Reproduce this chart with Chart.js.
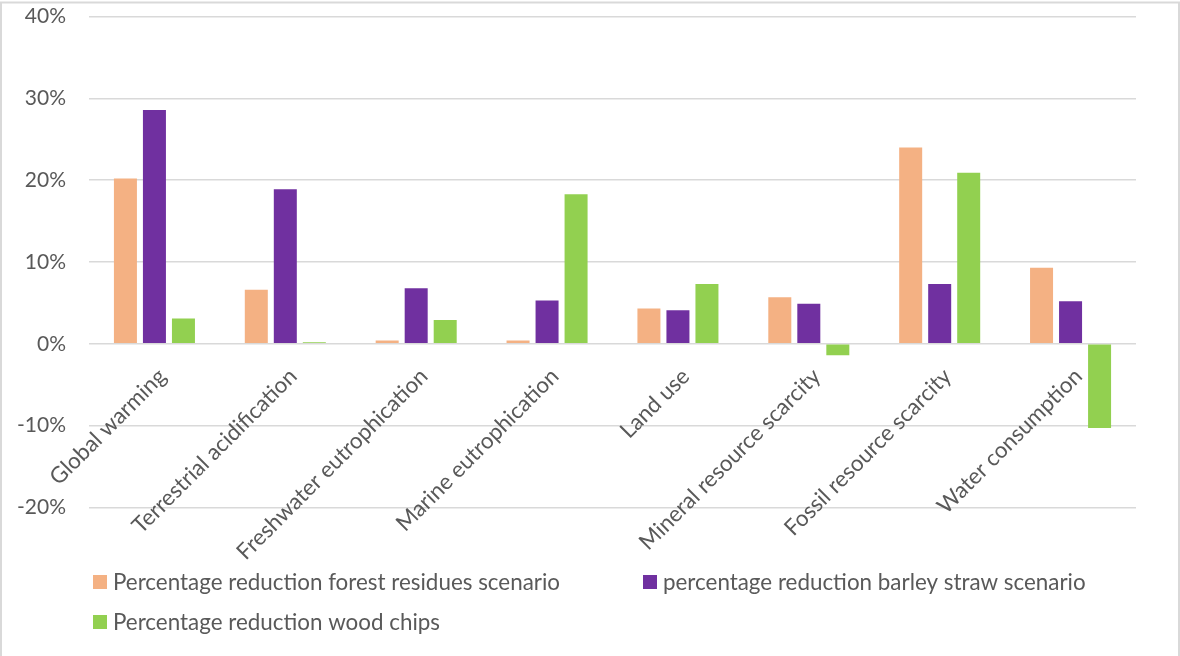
<!DOCTYPE html>
<html>
<head>
<meta charset="utf-8">
<style>
  html, body { margin: 0; padding: 0; background: #ffffff; }
  canvas { display: block; }
</style>
<script src="https://cdn.jsdelivr.net/npm/chart.js@4/dist/chart.umd.min.js"></script>
</head>
<body>
<canvas id="impact" width="1180" height="656"></canvas>
<script>
// Impact categories (x axis)
const categories = [
  'Global warming',
  'Terrestrial acidification',
  'Freshwater eutrophication',
  'Marine eutrophication',
  'Land use',
  'Mineral resource scarcity',
  'Fossil resource scarcity',
  'Water consumption'
];

// Percentage reduction per scenario
const forestResidues = [20.2, 6.6, 0.4, 0.4, 4.3, 5.7, 24.0, 9.3];
const barleyStraw    = [28.6, 18.9, 6.8, 5.3, 4.1, 4.9, 7.3, 5.2];
const woodChips      = [3.1, 0.2, 2.9, 18.3, 7.3, -1.4, 20.9, -10.3];

// Series names
const seriesNames = [
  'Percentage reduction forest residues scenario',
  'percentage reduction barley straw scenario',
  'Percentage reduction wood chips'
];

// Value axis range
const yMin = -20;
const yMax = 40;
const yStep = 10;

const FONT = 'Lato, "Open Sans", "DejaVu Sans", sans-serif';
const TEXT = '#595959';
const COLORS = ['#F4B183', '#7030A0', '#92D050'];

// White page with a thin grey frame
const framePlugin = {
  id: 'frame',
  beforeDraw(chart) {
    const ctx = chart.ctx;
    ctx.save();
    ctx.fillStyle = '#ffffff';
    ctx.fillRect(0, 0, chart.width, chart.height);
    ctx.strokeStyle = '#d9d9d9';
    ctx.lineWidth = 2;
    ctx.strokeRect(1, 2.5, chart.width - 2, chart.height + 20);
    ctx.restore();
  }
};

// Category labels, slanted, hanging just below the zero line
const categoryLabels = {
  id: 'categoryLabels',
  afterDatasetsDraw(chart) {
    const ctx = chart.ctx;
    const xs = chart.scales.x;
    const ys = chart.scales.y;
    const y0 = ys.getPixelForValue(0);
    ctx.save();
    ctx.font = '22.4px ' + FONT;
    ctx.fillStyle = TEXT;
    ctx.textAlign = 'right';
    ctx.textBaseline = 'alphabetic';
    chart.data.labels.forEach((label, i) => {
      const x = xs.getPixelForValue(i);
      ctx.save();
      ctx.translate(x + 13, y0 + 34);
      ctx.rotate(-Math.PI / 4);
      ctx.fillText(label, 0, 0);
      ctx.restore();
    });
    ctx.restore();
  }
};

// Legend in two columns below the plot
const seriesKey = {
  id: 'seriesKey',
  afterDraw(chart) {
    const ctx = chart.ctx;
    const slots = [
      { x: 93, y: 575 },
      { x: 643, y: 575 },
      { x: 93, y: 615 }
    ];
    ctx.save();
    ctx.font = '22.4px ' + FONT;
    ctx.textAlign = 'left';
    ctx.textBaseline = 'alphabetic';
    chart.data.datasets.forEach((ds, i) => {
      const s = slots[i];
      ctx.fillStyle = ds.backgroundColor;
      ctx.fillRect(s.x, s.y, 14, 14);
      ctx.fillStyle = TEXT;
      ctx.fillText(ds.label, s.x + 20, s.y + 14.5);
    });
    ctx.restore();
  }
};

new Chart(document.getElementById('impact'), {
  type: 'bar',
  data: {
    labels: categories,
    datasets: [
      { label: seriesNames[0], data: forestResidues, backgroundColor: COLORS[0] },
      { label: seriesNames[1], data: barleyStraw, backgroundColor: COLORS[1] },
      { label: seriesNames[2], data: woodChips, backgroundColor: COLORS[2] }
    ]
  },
  options: {
    responsive: false,
    animation: false,
    devicePixelRatio: 1,
    categoryPercentage: 0.665,
    barPercentage: 0.793,
    layout: {
      padding: { left: 0, top: 16.7, right: 44, bottom: 148.7 }
    },
    plugins: {
      legend: { display: false },
      tooltip: { enabled: false }
    },
    scales: {
      x: {
        display: false
      },
      y: {
        min: yMin,
        max: yMax,
        afterFit(scale) {
          scale.width = 89;
          scale.paddingTop = 0;
          scale.paddingBottom = 0;
        },
        border: { display: false },
        grid: {
          color: '#d9d9d9',
          lineWidth: 1.5,
          drawTicks: false
        },
        ticks: {
          stepSize: yStep,
          padding: 23,
          color: TEXT,
          font: { family: FONT, size: 21 },
          callback: (v) => v + '%'
        }
      }
    }
  },
  plugins: [framePlugin, categoryLabels, seriesKey]
});
</script>
</body>
</html>
